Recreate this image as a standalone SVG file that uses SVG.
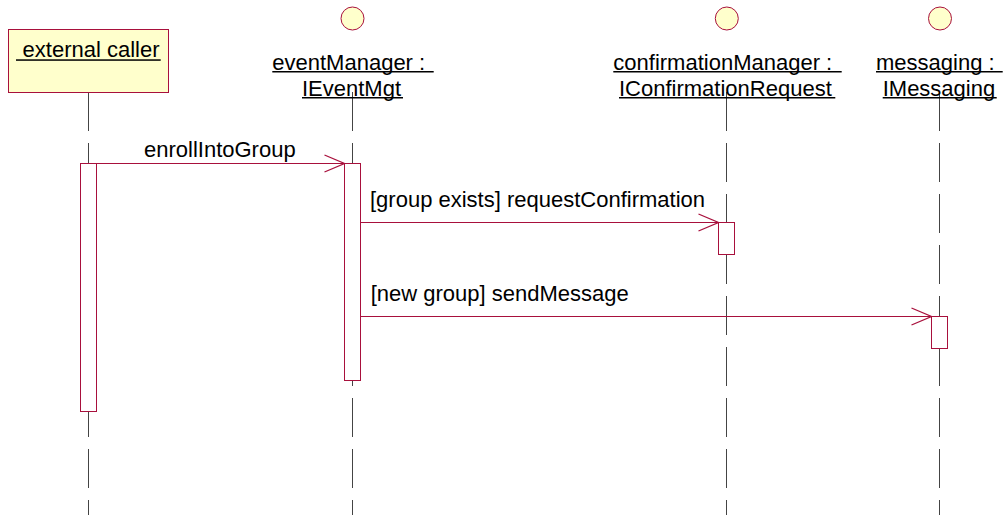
<svg xmlns="http://www.w3.org/2000/svg" width="1006" height="515" viewBox="0 0 1006 515">
  <style>
    .lbl { font-family: "Liberation Sans", Arial, sans-serif; font-size: 22px; fill: #000; }
    .life { stroke: #444; stroke-width: 1; stroke-dasharray: 39 12; fill: none; }
    .act { fill: #fff; stroke: #A8103C; stroke-width: 1; }
    .msg { stroke: #A8103C; stroke-width: 1; fill: none; }
    .head { stroke: #A8103C; stroke-width: 1.3; fill: none; }
    .obj { fill: #FFFFCC; stroke: #A8103C; stroke-width: 1; }
    .ul { fill: #000; }
  </style>
  <rect width="1006" height="515" fill="#fff"/>

  <g id="lifelines">
    <line class="life" x1="88.5" y1="92" x2="88.5" y2="515"/>
    <line class="life" x1="352.5" y1="92" x2="352.5" y2="515"/>
    <line class="life" x1="726.5" y1="92" x2="726.5" y2="515"/>
    <line class="life" x1="939.5" y1="92" x2="939.5" y2="515"/>
  </g>

  <g id="externalCaller">
    <rect class="obj" x="8.5" y="29.5" width="160" height="63"/>
    <text class="lbl" x="16.5" y="56.5" xml:space="preserve"> external caller</text>
    <rect class="ul" x="16" y="59.3" width="144.7" height="1.5"/>
    <rect class="act" x="80.5" y="163.5" width="16" height="248"/>
  </g>

  <g id="eventManager">
    <circle class="obj" cx="352.5" cy="18.5" r="11.5"/>
    <text class="lbl" x="272.3" y="69.5" xml:space="preserve">eventManager : </text>
    <rect class="ul" x="272.3" y="71" width="161.4" height="1.5"/>
    <text class="lbl" x="302" y="95.5">IEventMgt</text>
    <rect class="ul" x="302" y="97" width="101" height="1.5"/>
    <rect class="act" x="344.5" y="163.5" width="16" height="217"/>
  </g>

  <g id="confirmationManager">
    <circle class="obj" cx="726.8" cy="18.5" r="11.5"/>
    <text class="lbl" x="613.3" y="69.5" xml:space="preserve">confirmationManager : </text>
    <rect class="ul" x="613.3" y="71" width="228.4" height="1.5"/>
    <text class="lbl" x="619" y="95.5">IConfirmationRequest</text>
    <rect class="ul" x="619" y="97" width="216.3" height="1.5"/>
    <rect class="act" x="718.5" y="222.5" width="16" height="32"/>
  </g>

  <g id="messaging">
    <circle class="obj" cx="940" cy="18.5" r="11.5"/>
    <text class="lbl" x="876" y="69.5" xml:space="preserve">messaging : </text>
    <rect class="ul" x="876" y="71" width="126.7" height="1.5"/>
    <text class="lbl" x="882.7" y="95.5">IMessaging</text>
    <rect class="ul" x="882.7" y="97" width="114" height="1.5"/>
    <rect class="act" x="931.5" y="316.5" width="16" height="32"/>
  </g>

  <g id="connectors">
    <line class="msg" x1="96.5" y1="163.5" x2="344.5" y2="163.5"/>
    <polyline class="head" points="324.5,155 344.5,163.5 324.5,172"/>
    <text class="lbl" x="144" y="157">enrollIntoGroup</text>

    <line class="msg" x1="360.5" y1="222.5" x2="718.5" y2="222.5"/>
    <polyline class="head" points="698.5,214 718.5,222.5 698.5,231"/>
    <text class="lbl" x="370" y="206.5">[group exists] requestConfirmation</text>

    <line class="msg" x1="360.5" y1="316.5" x2="931.5" y2="316.5"/>
    <polyline class="head" points="911.5,308 931.5,316.5 911.5,325"/>
    <text class="lbl" x="370.7" y="300.5">[new group] sendMessage</text>
  </g>
</svg>
